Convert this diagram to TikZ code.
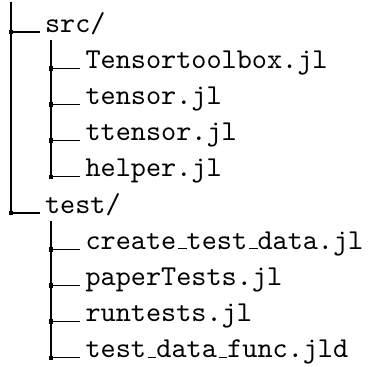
\documentclass[tikz,border=0pt]{standalone}
\newcommand\us{\kern.06em\vbox{\hrule width.3em height .4pt}}
\tikzset{
  entry/.style={anchor=base west, inner sep=0pt, scale=2.88, transform shape, font=\fontsize{10}{12}\selectfont\ttfamily},
  treeline/.style={line width=1.1pt},
  junction/.style={rectangle, fill=black, draw=none, minimum size=4.6pt, inner sep=0pt}
}
\begin{document}
\begin{tikzpicture}[x=1pt,y=-1pt]
\useasboundingbox (0,0) rectangle (367,367);
% level 1
\node[entry] (src)  at (44.5,32)  {src/};
\node[entry] (test) at (44.5,213) {test/};
% level 2
\node[entry] (f1) at (85,68.2)  {Tensortoolbox.jl};
\node[entry] (f2) at (85,104.4) {tensor.jl};
\node[entry] (f3) at (85,140.6) {ttensor.jl};
\node[entry] (f4) at (85,176.8) {helper.jl};
\node[entry] (g1) at (85,249.2) {create\us test\us data.jl};
\node[entry] (g2) at (85,285.4) {paperTests.jl};
\node[entry] (g3) at (85,321.6) {runtests.jl};
\node[entry] (g4) at (85,357.8) {test\us data\us func.jld};
% coordinates
\coordinate (root) at (11,2);
\coordinate (jsrc) at (11,32);
\coordinate (jtest) at (11,213);
\coordinate (srctop) at (51,40);
\coordinate (testtop) at (51,221);
\foreach \n in {f1,f2,f3,f4,g1,g2,g3,g4}{
  \coordinate (j\n) at (51,0 |- \n.base);
}
% vertical lines
\draw[treeline] (root) -- (jtest);
\draw[treeline] (srctop) -- (jf4);
\draw[treeline] (testtop) -- (jg4);
% horizontal lines
\draw[treeline] (jsrc) -- ([xshift=-4.5pt]src.base west);
\draw[treeline] (jtest) -- ([xshift=-4.5pt]test.base west);
\foreach \n in {f1,f2,f3,f4,g1,g2,g3,g4}{
  \draw[treeline] (j\n) -- ([xshift=-5pt]\n.base west);
  \node[junction] at (j\n) {};
}
\node[junction] at (jsrc) {};
\node[junction] at (jtest) {};
\end{tikzpicture}
\end{document}
